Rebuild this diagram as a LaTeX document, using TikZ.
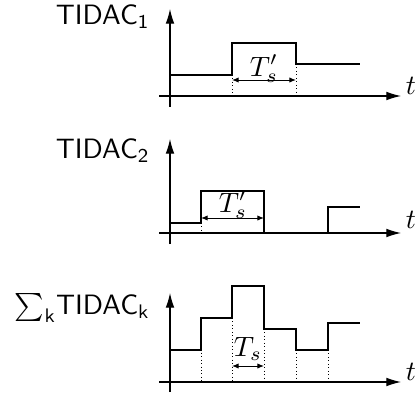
\documentclass[tikz,border=0pt]{standalone}
\usepackage{graphicx}
\usetikzlibrary{arrows.meta}
\newcommand{\enlargetxt}[1]{\scalebox{2.1}{#1}}
\begin{document}
\begin{tikzpicture}[x=0.75pt,y=-0.75pt,
  axis/.style={line width=0.8pt,-{Latex[length=11pt,width=6.5pt]}},
  signal/.style={line width=0.8pt},
  guide/.style={line width=0.6pt,dotted},
  span/.style={line width=0.7pt,{Latex[length=5pt,width=4pt]}-{Latex[length=5pt,width=4pt]}},
  lbl/.style={font=\sffamily,anchor=east,inner sep=0pt},
  tlbl/.style={inner sep=0pt}]
\useasboundingbox (0,0) rectangle (420,392);

% first converter output
\draw[axis] (170,107) -- (170,9);
\draw[axis] (159,96) -- (401,96);
\node[lbl] (y1) at (150,17) {\enlargetxt{TIDAC$_{\mathsf{1}}$}};
\node[tlbl] (t1) at (411,86) {\enlargetxt{$t$}};
\draw[signal] (170,75) -- (232,75) -- (232,43) -- (296,43) -- (296,64) -- (360,64);
\draw[guide] (232,75) -- (232,96);
\draw[guide] (296,64) -- (296,96);
\draw[span] (232,80) -- (296,80);
\node[tlbl] (s1) at (264,69) {\enlargetxt{$T_s'$}};

% second converter output
\draw[axis] (170,244) -- (170,139);
\draw[axis] (159,233) -- (401,233);
\node[lbl] (y2) at (150,151) {\enlargetxt{TIDAC$_{\mathsf{2}}$}};
\node[tlbl] (t2) at (411,220) {\enlargetxt{$t$}};
\draw[signal] (170,223) -- (201,223) -- (201,191) -- (264,191) -- (264,233) -- (328,233) -- (328,207) -- (360,207);
\draw[guide] (201,223) -- (201,233);
\draw[span] (201,218) -- (264,218);
\node[tlbl] (s2) at (233,205) {\enlargetxt{$T_s'$}};

% summed output
\draw[axis] (170,392) -- (170,293);
\draw[axis] (159,382) -- (401,382);
\node[lbl] (y3) at (150,308) {\enlargetxt{$\sum_{\mathsf{k}}$TIDAC$_{\mathsf{k}}$}};
\node[tlbl] (t3) at (411,372) {\enlargetxt{$t$}};
\draw[signal] (170,350) -- (201,350) -- (201,318) -- (232,318) -- (232,286) -- (264,286) -- (264,329) -- (296,329) -- (296,350) -- (328,350) -- (328,323) -- (360,323);
\foreach \gx/\gy in {201/318, 232/318, 264/329, 296/350, 328/350}
  \draw[guide] (\gx,\gy) -- (\gx,382);
\draw[span] (232,366) -- (264,366);
\node[tlbl] (s3) at (248,349) {\enlargetxt{$T_s$}};
\end{tikzpicture}
\end{document}
